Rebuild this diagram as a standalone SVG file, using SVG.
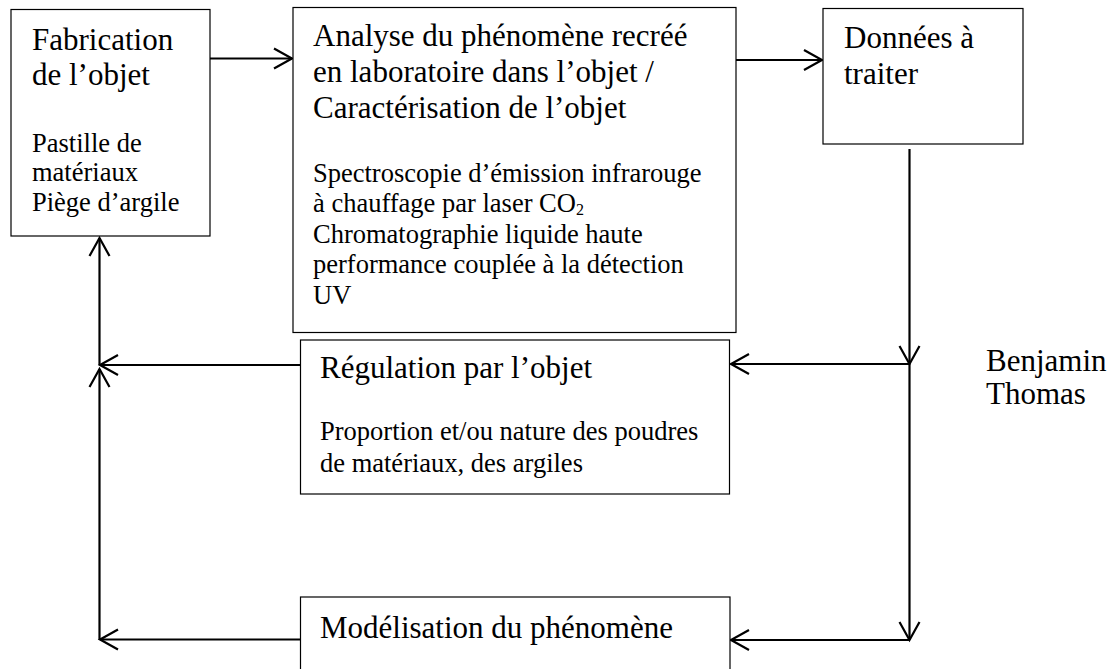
<svg xmlns="http://www.w3.org/2000/svg" width="1112" height="669" viewBox="0 0 1112 669">
<style>
.box{fill:#fff;stroke:#000;stroke-width:1.2}
.lg{font-family:"Liberation Serif","Times New Roman",serif;font-size:31px;fill:#000}
.sm{font-family:"Liberation Serif","Times New Roman",serif;font-size:26.5px;fill:#000}
.con{fill:none;stroke:#000;stroke-width:2.2;marker-end:url(#ah)}
</style>
<defs>
<marker id="ah" markerUnits="userSpaceOnUse" markerWidth="24" markerHeight="24" viewBox="-20 -12 24 24" refX="0" refY="0" orient="auto">
<path d="M-18,-10 L0,0 L-18,10" fill="none" stroke="#000" stroke-width="2.2"/>
</marker>
</defs>
<rect width="1112" height="669" fill="#fff"/>
<g id="connectors">
<line class="con" x1="210" y1="58.5" x2="292" y2="58.5"/>
<line class="con" x1="736" y1="60" x2="822" y2="60"/>
<line class="con" x1="909.5" y1="149" x2="909.5" y2="364"/>
<line class="con" x1="909.5" y1="364" x2="909.5" y2="640"/>
<line class="con" x1="909.5" y1="364" x2="731" y2="364"/>
<line class="con" x1="909.5" y1="640" x2="731" y2="640"/>
<line class="con" x1="300" y1="365" x2="100" y2="365"/>
<line class="con" x1="300" y1="639.5" x2="100" y2="639.5"/>
<line class="con" x1="99.5" y1="365" x2="99.5" y2="238"/>
<line class="con" x1="99.5" y1="639.5" x2="99.5" y2="369"/>
</g>
<g id="fabrication">
<rect class="box" x="11" y="9.5" width="199" height="226.5"/>
<text class="lg" x="32" y="50">Fabrication</text>
<text class="lg" x="32" y="85">de l’objet</text>
<text class="sm" x="32" y="151.5">Pastille de</text>
<text class="sm" x="32" y="181">matériaux</text>
<text class="sm" x="32" y="210.5">Piège d’argile</text>
</g>
<g id="analyse">
<rect class="box" x="293" y="7.5" width="443" height="325"/>
<text class="lg" x="313" y="45.5">Analyse du phénomène recréé</text>
<text class="lg" x="313" y="81.5">en laboratoire dans l’objet /</text>
<text class="lg" x="313" y="117.5">Caractérisation de l’objet</text>
<text class="sm" x="313" y="181.5">Spectroscopie d’émission infrarouge</text>
<text class="sm" x="313" y="212">à chauffage par laser CO<tspan font-size="16" dy="3">2</tspan></text>
<text class="sm" x="313" y="242.5">Chromatographie liquide haute</text>
<text class="sm" x="313" y="273">performance couplée à la détection</text>
<text class="sm" x="313" y="303.5">UV</text>
</g>
<g id="donnees">
<rect class="box" x="823" y="8.5" width="200" height="135.5"/>
<text class="lg" x="844" y="48">Données à</text>
<text class="lg" x="844" y="84">traiter</text>
</g>
<g id="regulation">
<rect class="box" x="300.5" y="340" width="429" height="154"/>
<text class="lg" x="320" y="378">Régulation par l’objet</text>
<text class="sm" x="320" y="440">Proportion et/ou nature des poudres</text>
<text class="sm" x="320" y="471.5">de matériaux, des argiles</text>
</g>
<g id="modelisation">
<rect class="box" x="300.5" y="597" width="429.5" height="80"/>
<text class="lg" x="320" y="637.5">Modélisation du phénomène</text>
</g>
<g id="auteur">
<text class="lg" x="986" y="370.5">Benjamin</text>
<text class="lg" x="986" y="404">Thomas</text>
</g>
</svg>
